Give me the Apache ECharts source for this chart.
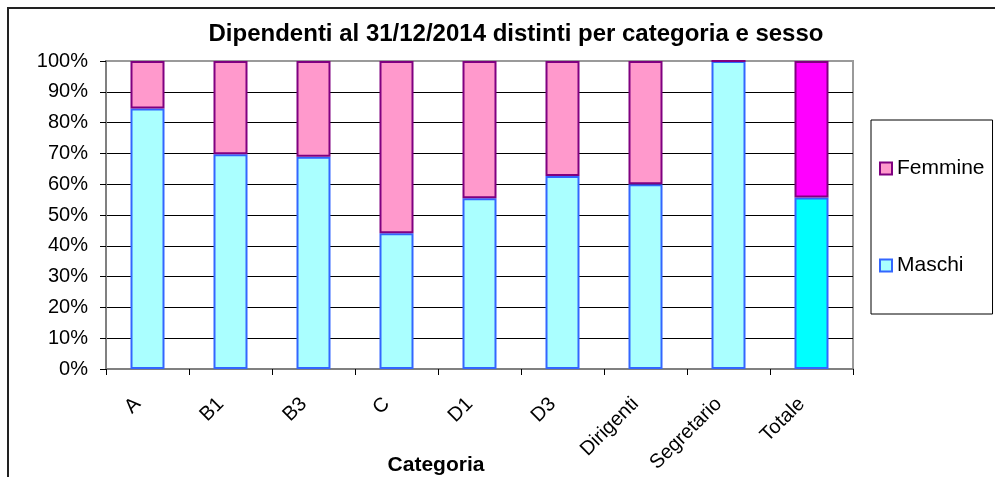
<!DOCTYPE html>
<html>
<head>
<meta charset="utf-8">
<script src="https://cdn.jsdelivr.net/npm/echarts@6/dist/echarts.min.js"></script>
<style>
html,body{margin:0;padding:0;background:#fff;}
#chart{width:995px;height:477px;}
</style>
</head>
<body>
<div id="chart"></div>
<script>
var categories = ['A', 'B1', 'B3', 'C', 'D1', 'D3', 'Dirigenti', 'Segretario', 'Totale'];
var maschi = [84.6, 69.7, 68.9, 44.1, 55.4, 62.7, 60.0, 100, 55.7];
var femmine = [15.4, 30.3, 31.1, 55.9, 44.6, 37.3, 40.0, 0, 44.3];
var yTicks = [0, 10, 20, 30, 40, 50, 60, 70, 80, 90, 100];

var FONT = '"Liberation Sans", Arial, sans-serif';
var totalIndex = categories.indexOf('Totale');

function build(values, totalColor) {
  return values.map(function (v, i) {
    if (i === totalIndex) return { value: v, itemStyle: { color: totalColor } };
    return v;
  });
}

var splitColors = yTicks.map(function (t, i) {
  return (i === 0 || i === yTicks.length - 1) ? '#9a9a9a' : '#000000';
});

var chart = echarts.init(document.getElementById('chart'), null, { renderer: 'canvas' });
chart.setOption({
  animation: false,
  backgroundColor: '#ffffff',
  textStyle: { fontFamily: FONT },
  title: [{
    text: 'Dipendenti al 31/12/2014 distinti per categoria e sesso',
    left: 511, textAlign: 'center', top: 17,
    textStyle: { fontFamily: FONT, fontSize: 24, fontWeight: 'bold', color: '#000' }
  }, {
    text: 'Categoria',
    left: 431, textAlign: 'center', top: 450,
    textStyle: { fontFamily: FONT, fontSize: 21, fontWeight: 'bold', color: '#000' }
  }],
  graphic: [{
    type: 'rect', silent: true,
    shape: { x: 8, y: 8, width: 1000, height: 500 },
    style: { fill: 'none', stroke: '#222', lineWidth: 2 }
  }],
  legend: {
    orient: 'vertical',
    left: 871, top: 120,
    padding: [38, 8, 38, 8],
    itemGap: 76,
    itemWidth: 12, itemHeight: 12,
    icon: 'rect',
    borderColor: '#000', borderWidth: 1,
    data: ['Femmine', 'Maschi'],
    textStyle: { fontFamily: FONT, fontSize: 21, color: '#000', lineHeight: 20 }
  },
  grid: {
    left: 106, right: 142, top: 61, bottom: 108,
    show: true, borderColor: '#9a9a9a', borderWidth: 2
  },
  xAxis: {
    type: 'category',
    data: categories,
    axisLine: { lineStyle: { color: '#808080', width: 2 } },
    axisTick: { show: true, length: 6, lineStyle: { color: '#000' } },
    axisLabel: { rotate: 45, fontFamily: FONT, fontSize: 20, color: '#000', margin: 22, padding: [0, 14, 0, 0] }
  },
  yAxis: {
    type: 'value',
    min: 0, max: 100, interval: 10,
    axisLine: { show: true, lineStyle: { color: '#808080', width: 2 } },
    axisTick: { show: true, length: 6, lineStyle: { color: '#000' } },
    axisLabel: { formatter: '{value}%', fontFamily: FONT, fontSize: 20, color: '#000', margin: 18 },
    splitLine: { show: true, lineStyle: { color: splitColors, width: 1 } }
  },
  series: [{
    name: 'Maschi',
    type: 'bar',
    stack: 'tot',
    barWidth: 34,
    data: build(maschi, '#00ffff'),
    itemStyle: { color: '#aaffff', borderColor: '#3366ff', borderWidth: 2 }
  }, {
    name: 'Femmine',
    type: 'bar',
    stack: 'tot',
    barWidth: 34,
    data: build(femmine, '#ff00ff'),
    itemStyle: { color: '#ff99cc', borderColor: '#800080', borderWidth: 2 }
  }]
});
</script>
</body>
</html>
